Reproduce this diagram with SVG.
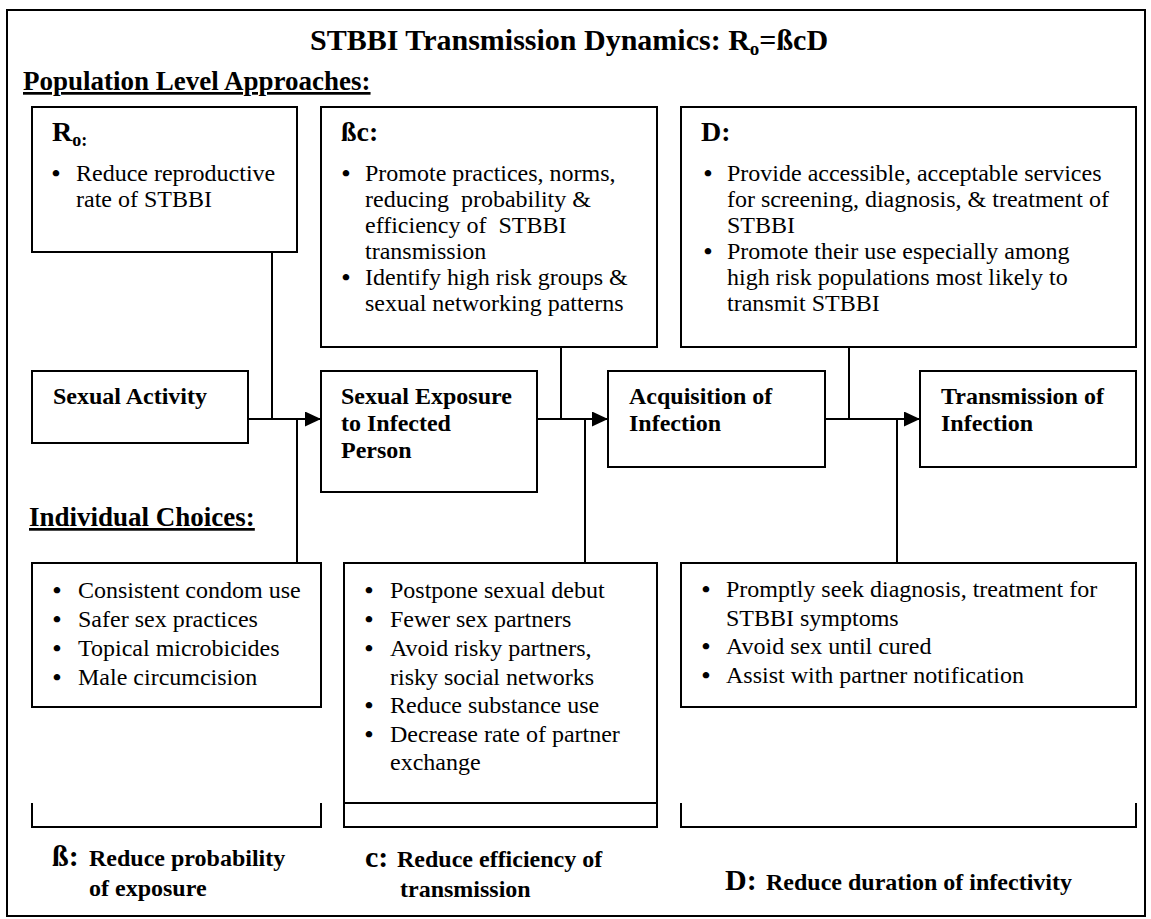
<svg xmlns="http://www.w3.org/2000/svg" width="1151" height="919" viewBox="0 0 1151 919">
<style>
.box{fill:#fff;stroke:#000;stroke-width:2}
.ln{fill:none;stroke:#000;stroke-width:2}
text{font-family:"Liberation Serif","Times New Roman",serif;font-size:24px;fill:#000}
.b{font-weight:bold}
.h{font-size:28px;font-weight:bold}
.big{font-size:30px;font-weight:bold}
.u{text-decoration:underline;font-weight:bold;font-size:27px}
.bul{text-anchor:middle;font-weight:bold}
</style>
<defs>
<marker id="arr" markerUnits="userSpaceOnUse" markerWidth="17" markerHeight="16" refX="16" refY="7.5" orient="auto">
<path d="M0,0 L16,7.5 L0,15 Z" fill="#000"/>
</marker>
</defs>
<rect x="7" y="10" width="1138" height="906" fill="#fff" stroke="#000" stroke-width="2"/>
<g id="title">
<text x="310" y="50" class="big">STBBI Transmission Dynamics: R<tspan font-size="19" dy="5">o</tspan><tspan dy="-5">=ßcD</tspan></text>
<text x="23" y="90" class="u">Population Level Approaches:</text>
<text x="29" y="526" class="u">Individual Choices:</text>
</g>
<g id="connectors">
<path class="ln" d="M272,252 V419"/>
<path class="ln" d="M561,347 V419"/>
<path class="ln" d="M849,347 V419"/>
<path class="ln" d="M248,419 H321" marker-end="url(#arr)"/>
<path class="ln" d="M537,419 H608" marker-end="url(#arr)"/>
<path class="ln" d="M825,419 H920" marker-end="url(#arr)"/>
<path class="ln" d="M297,419 V563"/>
<path class="ln" d="M585,419 V563"/>
<path class="ln" d="M897,419 V563"/>
</g>
<g id="node-r0">
<rect class="box" x="32" y="107" width="265" height="145"/>
<text x="52" y="141" class="h">R<tspan font-size="18" dy="5">o:</tspan></text>
<text x="56" y="181" class="bul">•</text>
<text x="76" y="181">Reduce reproductive</text>
<text x="76" y="207">rate of STBBI</text>
</g>
<g id="node-bc">
<rect class="box" x="321" y="107" width="336" height="240"/>
<text x="341" y="141" class="h">ßc:</text>
<text x="346" y="181" class="bul">•</text>
<text x="365" y="181">Promote practices, norms,</text>
<text x="365" y="207" xml:space="preserve">reducing  probability &amp;</text>
<text x="365" y="233" xml:space="preserve">efficiency of  STBBI</text>
<text x="365" y="259">transmission</text>
<text x="346" y="285" class="bul">•</text>
<text x="365" y="285">Identify high risk groups &amp;</text>
<text x="365" y="311">sexual networking patterns</text>
</g>
<g id="node-d">
<rect class="box" x="681" y="107" width="455" height="240"/>
<text x="701" y="141" class="h">D:</text>
<text x="708" y="181" class="bul">•</text>
<text x="727" y="181">Provide accessible, acceptable services</text>
<text x="727" y="207">for screening, diagnosis, &amp; treatment of</text>
<text x="727" y="233">STBBI</text>
<text x="708" y="259" class="bul">•</text>
<text x="727" y="259">Promote their use especially among</text>
<text x="727" y="285">high risk populations most likely to</text>
<text x="727" y="311">transmit STBBI</text>
</g>
<g id="node-activity">
<rect class="box" x="32" y="371" width="216" height="72"/>
<text x="53" y="404" class="b">Sexual Activity</text>
</g>
<g id="node-exposure">
<rect class="box" x="321" y="371" width="216" height="121"/>
<text x="341" y="404" class="b">Sexual Exposure</text>
<text x="341" y="431" class="b">to Infected</text>
<text x="341" y="458" class="b">Person</text>
</g>
<g id="node-acquisition">
<rect class="box" x="608" y="371" width="217" height="96"/>
<text x="629" y="404" class="b">Acquisition of</text>
<text x="629" y="431" class="b">Infection</text>
</g>
<g id="node-transmission">
<rect class="box" x="920" y="371" width="216" height="96"/>
<text x="941" y="404" class="b">Transmission of</text>
<text x="941" y="431" class="b">Infection</text>
</g>
<g id="node-choices-beta">
<rect class="box" x="32" y="563" width="289" height="144"/>
<text x="57" y="598" class="bul">•</text>
<text x="78" y="598">Consistent condom use</text>
<text x="57" y="627" class="bul">•</text>
<text x="78" y="627">Safer sex practices</text>
<text x="57" y="656" class="bul">•</text>
<text x="78" y="656">Topical microbicides</text>
<text x="57" y="685" class="bul">•</text>
<text x="78" y="685">Male circumcision</text>
</g>
<g id="node-choices-c">
<rect class="box" x="344" y="563" width="313" height="240"/>
<text x="369" y="598" class="bul">•</text>
<text x="390" y="598">Postpone sexual debut</text>
<text x="369" y="627" class="bul">•</text>
<text x="390" y="627">Fewer sex partners</text>
<text x="369" y="656" class="bul">•</text>
<text x="390" y="656">Avoid risky partners,</text>
<text x="390" y="685">risky social networks</text>
<text x="369" y="713" class="bul">•</text>
<text x="390" y="713">Reduce substance use</text>
<text x="369" y="742" class="bul">•</text>
<text x="390" y="742">Decrease rate of partner</text>
<text x="390" y="770">exchange</text>
</g>
<g id="node-choices-d">
<rect class="box" x="681" y="563" width="455" height="144"/>
<text x="706" y="597" class="bul">•</text>
<text x="726" y="597">Promptly seek diagnosis, treatment for</text>
<text x="726" y="626">STBBI symptoms</text>
<text x="706" y="654" class="bul">•</text>
<text x="726" y="654">Avoid sex until cured</text>
<text x="706" y="683" class="bul">•</text>
<text x="726" y="683">Assist with partner notification</text>
</g>
<g id="brackets">
<path class="ln" d="M32,803 V827 H321 V803"/>
<path class="ln" d="M344,803 V827 H657 V803"/>
<path class="ln" d="M681,803 V827 H1136 V803"/>
</g>
<g id="label-beta">
<text x="52" y="866" class="big">ß:</text>
<text x="89" y="866" class="b">Reduce probability</text>
<text x="89" y="896" class="b">of exposure</text>
</g>
<g id="label-c">
<text x="365" y="867" class="big">c:</text>
<text x="397" y="867" class="b">Reduce efficiency of</text>
<text x="400" y="897" class="b">transmission</text>
</g>
<g id="label-d">
<text x="725" y="890" class="big">D:</text>
<text x="766" y="890" class="b">Reduce duration of infectivity</text>
</g>
</svg>
